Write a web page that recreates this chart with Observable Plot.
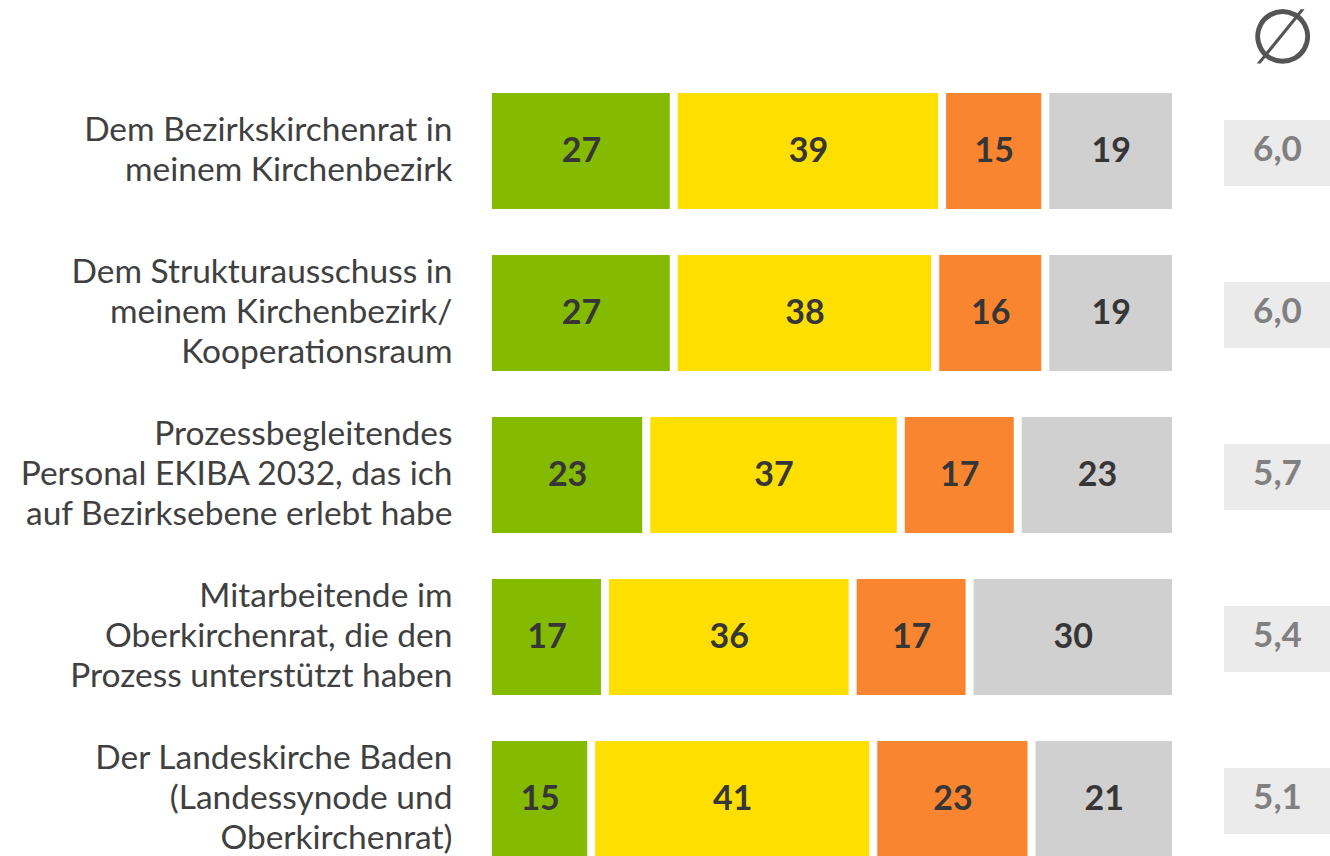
<!DOCTYPE html>
<html>
<head>
<meta charset="utf-8">
<script src="https://cdn.jsdelivr.net/npm/d3@7"></script>
<script src="https://cdn.jsdelivr.net/npm/@observablehq/plot@0.6"></script>
<style>
  html, body { margin: 0; padding: 0; background: #fff; overflow: hidden; }
</style>
</head>
<body>
<div id="chart"></div>
<script>
const categories = [
  "Dem Bezirkskirchenrat in\nmeinem Kirchenbezirk",
  "Dem Strukturausschuss in\nmeinem Kirchenbezirk/\nKooperationsraum",
  "Prozessbegleitendes\nPersonal EKIBA 2032, das ich\nauf Bezirksebene erlebt habe",
  "Mitarbeitende im\nOberkirchenrat, die den\nProzess unterstützt haben",
  "Der Landeskirche Baden\n(Landessynode und\nOberkirchenrat)"
];
const seriesNames = ["hoch", "mittel", "gering", "weiß nicht"];
const seriesColors = ["#84BA00", "#FFDF00", "#FA8531", "#D0D0D0"];
const valuesHigh = [27, 27, 23, 17, 15];
const valuesMid = [39, 38, 37, 36, 41];
const valuesLow = [15, 16, 17, 17, 23];
const valuesUnknown = [19, 19, 23, 30, 21];
const averages = [6.0, 6.0, 5.7, 5.4, 5.1];
const avgSymbol = "\u2205";

const seriesValues = [valuesHigh, valuesMid, valuesLow, valuesUnknown];
const rows = [];
categories.forEach((c, i) => {
  seriesNames.forEach((s, j) => {
    rows.push({category: c, series: s, value: seriesValues[j][i]});
  });
});
const avgRows = categories.map((c, i) => ({category: c, avg: averages[i]}));
const fmt = v => v.toFixed(1).replace(".", ",");

const FONT = "Lato, 'Open Sans', sans-serif";

const chart = Plot.plot({
  width: 1330,
  height: 856,
  marginLeft: 488,
  marginRight: 154,
  marginTop: 0,
  marginBottom: 0,
  style: {fontFamily: FONT, color: "#404040", background: "#fff"},
  x: {domain: [0, 100], axis: null},
  y: {domain: categories, range: [70, 880], padding: 0, label: null},
  color: {domain: seriesNames, range: seriesColors},
  marks: [
    Plot.barX(rows, Plot.stackX({
      x: "value", y: "category", fill: "series", order: null,
      insetLeft: 4, insetRight: 4, insetTop: 23, insetBottom: 23
    })),
    Plot.text(rows, Plot.stackX({
      x: "value", y: "category", text: d => String(d.value), order: null,
      fontSize: 34, fontWeight: "bold", fill: "#363636"
    })),
    Plot.barX(avgRows, {
      x1: () => 100, x2: () => 100, y: "category",
      insetLeft: 48, insetRight: -154, insetTop: 50, insetBottom: 46,
      fill: "#EBEBEB"
    }),
    Plot.text(avgRows, {
      x: () => 100, y: "category", text: d => fmt(d.avg), dx: 101, dy: -2,
      fontSize: 35, fontWeight: "bold", fill: "#808080"
    }),
    Plot.text([avgSymbol], {
      text: d => d, frameAnchor: "top-right", dx: 106, dy: 38,
      textAnchor: "middle", lineAnchor: "middle",
      fontSize: 76, fill: "#555555", fontFamily: "DejaVu Sans"
    }),
    Plot.axisY({
      tickSize: 0, tickPadding: 36, fontSize: 33.5, lineHeight: 1.19, dy: -3,
      fill: "#404040", label: null, textAnchor: "end"
    })
  ]
});
document.getElementById("chart").appendChild(chart);
</script>
</body>
</html>
